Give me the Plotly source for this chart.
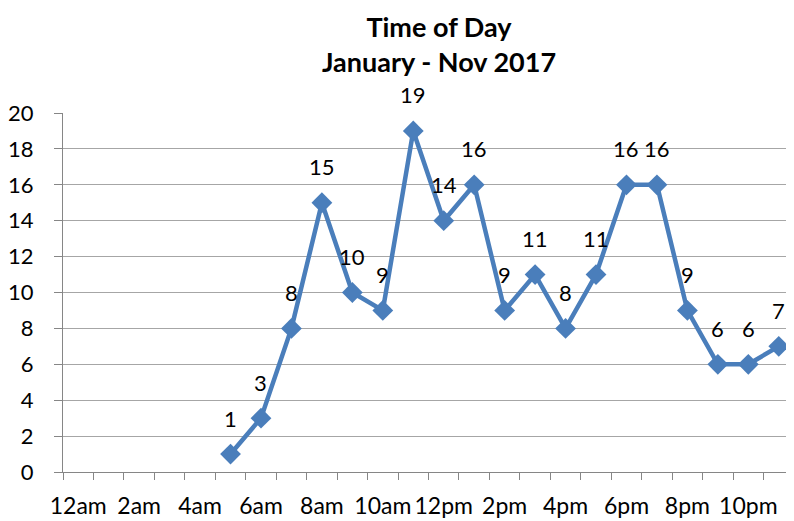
import plotly.graph_objects as go

hours = ["12am", "1am", "2am", "3am", "4am", "5am", "6am", "7am", "8am", "9am", "10am", "11am",
         "12pm", "1pm", "2pm", "3pm", "4pm", "5pm", "6pm", "7pm", "8pm", "9pm", "10pm", "11pm"]
counts = [None, None, None, None, None, 1, 3, 8, 15, 10, 9, 19,
          14, 16, 9, 11, 8, 11, 16, 16, 9, 6, 6, 7]
tick_labels = ["12am", "2am", "4am", "6am", "8am", "10am", "12pm", "2pm", "4pm", "6pm", "8pm", "10pm"]
y_ticks = list(range(0, 21, 2))
title_text = "<b>Time of Day<br>January - Nov 2017</b>"

xs = list(range(len(hours)))
font = "Lato, 'Open Sans', sans-serif"

fig = go.Figure()
fig.add_trace(go.Scatter(
    x=xs, y=counts, mode="lines+markers",
    line=dict(color="#4A7EBB", width=4.5),
    marker=dict(symbol="diamond", size=16, color="#4A7EBB"),
    connectgaps=False, showlegend=False, hoverinfo="skip", cliponaxis=False,
))

for x, v in zip(xs, counts):
    if v is not None:
        fig.add_annotation(x=x, y=v, text=str(v), showarrow=False, yshift=36,
                           font=dict(size=22, color="#000000", family=font))

# chart title (as an annotation so both lines sit inside the page)
fig.add_annotation(text=title_text, xref="paper", yref="paper",
                   x=0.514, xanchor="center", y=1.0, yanchor="bottom", yshift=33,
                   showarrow=False, font=dict(size=27, color="#000000", family=font))

fig.update_layout(
    width=786, height=513,
    margin=dict(l=52, r=0, t=105, b=49),
    paper_bgcolor="white", plot_bgcolor="white",
    font=dict(family=font, color="#000000"),
)

fig.update_xaxes(
    range=[-0.5, 23.5], tickmode="array",
    tickvals=[hours.index(t) for t in tick_labels], ticktext=tick_labels,
    ticks="", showgrid=False, zeroline=False, ticklabelstandoff=13,
    showline=True, linecolor="#868686", linewidth=1,
    tickfont=dict(size=23, color="#000000", family=font),
    minor=dict(tick0=-0.5, dtick=1, ticks="outside", ticklen=7, tickcolor="#868686", showgrid=False),
)
fig.update_yaxes(
    range=[0, 20], tickmode="array", tickvals=y_ticks,
    ticks="outside", ticklen=8, tickcolor="#868686", ticklabelstandoff=16,
    showgrid=True, gridcolor="#A6A6A6", gridwidth=1,
    zeroline=False, showline=True, linecolor="#868686", linewidth=1,
    tickfont=dict(size=22, color="#000000", family=font),
)

fig.write_html("out.html")
